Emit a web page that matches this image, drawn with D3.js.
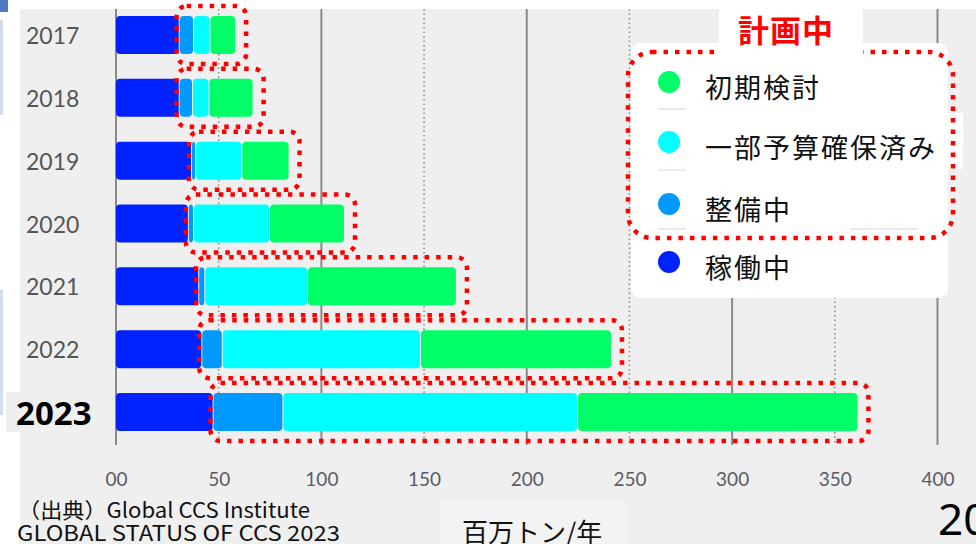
<!DOCTYPE html>
<html>
<head>
<meta charset="utf-8">
<script src="https://cdn.jsdelivr.net/npm/d3@7"></script>
<style>
  html, body { margin: 0; padding: 0; background: #ffffff; }
  svg { display: block; }
</style>
</head>
<body>
<div id="chart"></div>
<script>
// data (million tonnes / year)
const years = ['2017', '2018', '2019', '2020', '2021', '2022', '2023'];
const operating = [31, 31, 37, 35.5, 40.5, 42, 47.5];
const construction = [7, 6.5, 2, 2.5, 3, 10, 34];
const advanced = [8, 8, 22.5, 37, 50, 96.5, 143.5];
const early = [12.5, 21.5, 23, 36.5, 72.5, 93, 136.5];

const tickValues = [0, 50, 100, 150, 200, 250, 300, 350, 400];
const tickLabels = ['00', '50', '100', '150', '200', '250', '300', '350', '400'];

const seriesKeys = ['operating', 'construction', 'advanced', 'early'];
const seriesColors = ['#0022ff', '#0099ff', '#00ffff', '#00ff66'];
const legendLabels = ['初期検討', '一部予算確保済み', '整備中', '稼働中'];
const legendColors = ['#00ff66', '#00ffff', '#0099ff', '#0022ff'];

const W = 976, H = 544;
const jp = '"Noto Sans CJK JP", "Noto Sans", sans-serif';

const svg = d3.select('#chart').append('svg')
  .attr('width', W)
  .attr('height', H);

// slide remnants on the left edge
svg.append('rect').attr('x', 0).attr('y', 0).attr('width', 8).attr('height', 12).attr('fill', '#4a7bc4');
svg.append('rect').attr('x', 0).attr('y', 20).attr('width', 3).attr('height', 95).attr('fill', '#d3dcee');
svg.append('rect').attr('x', 0).attr('y', 290).attr('width', 3).attr('height', 125).attr('fill', '#d3dcee');

// grey panel
svg.append('rect')
  .attr('x', 20).attr('y', 9)
  .attr('width', W - 20).attr('height', H - 9)
  .attr('fill', '#efefef');

svg.append('rect')
  .attr('x', 6).attr('y', 392)
  .attr('width', 20).attr('height', 40)
  .attr('fill', '#efefef');

const x = d3.scaleLinear().domain([0, 400]).range([116, 937.5]);
const y = d3.scalePoint().domain(years).range([35, 412]);
const barH = 38;

// grid lines: solid every 100, dotted in between
svg.append('g')
  .selectAll('line')
  .data(tickValues)
  .join('line')
  .attr('x1', d => x(d)).attr('x2', d => x(d))
  .attr('y1', 9).attr('y2', 445)
  .attr('stroke', '#8a8a8a')
  .attr('stroke-width', d => d % 100 === 0 ? 2 : 1.5)
  .attr('stroke-dasharray', d => d % 100 === 0 ? null : '1.5,3');

// axis labels
const xAxis = d3.axisBottom(x)
  .tickValues(tickValues)
  .tickFormat((d, i) => tickLabels[i])
  .tickSize(0)
  .tickPadding(8);

const axisG = svg.append('g')
  .attr('transform', 'translate(0,465)')
  .call(xAxis);
axisG.select('.domain').remove();
axisG.selectAll('text')
  .attr('fill', '#5b5b66')
  .style('font-family', 'Lato, "Open Sans", sans-serif')
  .style('font-size', '19px');

// stacked bars
const table = years.map((yr, i) => ({
  year: yr,
  operating: operating[i],
  construction: construction[i],
  advanced: advanced[i],
  early: early[i]
}));

const stack = d3.stack().keys(seriesKeys);
const layers = stack(table);

svg.append('g')
  .selectAll('g')
  .data(layers)
  .join('g')
  .attr('fill', (d, i) => seriesColors[i])
  .selectAll('rect')
  .data(d => d)
  .join('rect')
  .attr('x', d => x(d[0]))
  .attr('y', d => y(d.data.year) - barH / 2)
  .attr('width', d => Math.max(x(d[1]) - x(d[0]) - 1, 0))
  .attr('height', barH)
  .attr('rx', 4);

// red dotted boxes around the planned part
svg.append('g')
  .selectAll('rect')
  .data(table)
  .join('rect')
  .attr('x', d => x(d.operating) - 3)
  .attr('y', d => y(d.year) - barH / 2 - 10)
  .attr('width', d => x(d.operating + d.construction + d.advanced + d.early) - x(d.operating) + 13)
  .attr('height', barH + 20)
  .attr('rx', 10)
  .attr('fill', 'none')
  .attr('stroke', '#ff0000')
  .attr('stroke-width', 4.5)
  .attr('stroke-dasharray', '4.5,7');

// year labels
svg.append('g')
  .selectAll('text')
  .data(years)
  .join('text')
  .attr('x', d => d === '2023' ? 16 : 26)
  .attr('y', d => y(d) + (d === '2023' ? 0 : 0))
  .attr('dominant-baseline', 'central')
  .attr('fill', d => d === '2023' ? '#000' : '#555')
  .style('font-family', d => d === '2023' ? '"Noto Sans", sans-serif' : 'Lato, "Open Sans", sans-serif')
  .style('font-weight', d => d === '2023' ? 'bold' : 'normal')
  .style('font-size', d => d === '2023' ? '33px' : '23px')
  .text(d => d);

// legend
const lg = svg.append('g');
lg.append('rect')
  .attr('x', 631).attr('y', 43)
  .attr('width', 317).attr('height', 255)
  .attr('rx', 10)
  .attr('fill', '#ffffff');
lg.append('rect')
  .attr('x', 948).attr('y', 113)
  .attr('width', 15).attr('height', 56)
  .attr('fill', '#ffffff');

const legendY = [82, 142, 204, 262];
[109, 170, 229].forEach(v => {
  lg.append('line').attr('x1', 658).attr('x2', 686).attr('y1', v).attr('y2', v)
    .attr('stroke', '#d8d8d8').attr('stroke-width', 1);
});
lg.append('line').attr('x1', 850).attr('x2', 918).attr('y1', 229).attr('y2', 229)
  .attr('stroke', '#d8d8d8').attr('stroke-width', 1);

lg.append('rect')
  .attr('x', 628).attr('y', 52)
  .attr('width', 325).attr('height', 186)
  .attr('rx', 24)
  .attr('fill', 'none')
  .attr('stroke', '#ff0000')
  .attr('stroke-width', 4.5)
  .attr('stroke-dasharray', '4.5,7');

lg.append('rect')
  .attr('x', 719).attr('y', 9)
  .attr('width', 144).attr('height', 48)
  .attr('fill', '#ffffff');

lg.append('text')
  .attr('x', 786).attr('y', 42)
  .attr('text-anchor', 'middle')
  .attr('fill', '#ff0000')
  .style('font-family', jp)
  .style('font-weight', 'bold')
  .style('font-size', '31px')
  .style('letter-spacing', '1px')
  .text('計画中');

const items = lg.selectAll('g.item')
  .data(legendLabels)
  .join('g')
  .attr('class', 'item');
items.append('circle')
  .attr('cx', 669)
  .attr('cy', (d, i) => legendY[i])
  .attr('r', 11)
  .attr('fill', (d, i) => legendColors[i]);
items.append('text')
  .attr('x', 705)
  .attr('y', (d, i) => legendY[i] + 4)
  .attr('dominant-baseline', 'central')
  .attr('fill', '#111')
  .style('font-family', jp)
  .style('font-size', '27px')
  .style('letter-spacing', '2px')
  .text(d => d);

// source + unit
svg.append('text')
  .attr('x', 18).attr('y', 518)
  .attr('fill', '#111')
  .attr('textLength', 292)
  .attr('lengthAdjust', 'spacingAndGlyphs')
  .style('font-family', jp)
  .style('font-size', '21px')
  .text('（出典）Global CCS Institute');
svg.append('text')
  .attr('x', 17).attr('y', 541)
  .attr('fill', '#111')
  .attr('textLength', 323)
  .attr('lengthAdjust', 'spacingAndGlyphs')
  .style('font-family', jp)
  .style('font-size', '21px')
  .text('GLOBAL STATUS OF CCS 2023');

svg.append('rect')
  .attr('x', 440).attr('y', 502)
  .attr('width', 187).attr('height', 42)
  .attr('fill', '#f3f3f3');
svg.append('text')
  .attr('x', 462).attr('y', 542)
  .attr('fill', '#111')
  .style('font-family', jp)
  .style('font-size', '26px')
  .text('百万トン/年');

svg.append('text')
  .attr('x', 938).attr('y', 535)
  .attr('fill', '#000')
  .style('font-family', '"Noto Sans", sans-serif')
  .style('font-size', '44px')
  .text('20');
</script>
</body>
</html>
